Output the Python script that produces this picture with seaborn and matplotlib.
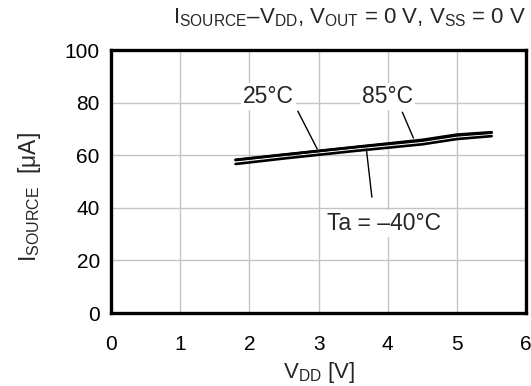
import matplotlib
matplotlib.use("Agg")
import matplotlib.pyplot as plt
import seaborn as sns
import pandas as pd

# Supply voltage sweep [V]
vdd = [1.8, 2.5, 3.0, 3.5, 4.0, 4.5, 5.0, 5.5]
# Source current [uA] per ambient temperature
isrc_25 = [58.2, 60.2, 61.6, 63.0, 64.3, 65.6, 67.6, 68.6]
isrc_85 = [58.3, 60.3, 61.7, 63.1, 64.5, 65.9, 67.9, 68.8]
isrc_m40 = [56.7, 58.8, 60.2, 61.6, 62.9, 64.2, 66.2, 67.3]
temps = ["25°C", "85°C", "Ta = –40°C"]

x_ticks = [0, 1, 2, 3, 4, 5, 6]
y_ticks = [0, 20, 40, 60, 80, 100]

rows = []
for t, vals in zip(temps, [isrc_25, isrc_85, isrc_m40]):
    for v, i in zip(vdd, vals):
        rows.append({"VDD": v, "ISOURCE": i, "Temp": t})
df = pd.DataFrame(rows)

sns.set_style("white")
plt.rcParams["font.family"] = ["Liberation Sans", "DejaVu Sans"]
plt.rcParams["mathtext.fontset"] = "custom"
plt.rcParams["mathtext.rm"] = "Liberation Sans"
plt.rcParams["mathtext.it"] = "Liberation Sans"

fig = plt.figure(figsize=(5.31, 3.86), dpi=100)
ax = fig.add_axes([0.209, 0.189, 0.782, 0.681])

sns.lineplot(data=df, x="VDD", y="ISOURCE", hue="Temp",
             palette=["black"] * 3, linewidth=1.9, legend=False, ax=ax,
             zorder=3)

ax.set_xlim(0, 6)
ax.set_ylim(0, 100)
ax.set_xticks(x_ticks)
ax.set_yticks(y_ticks)
ax.tick_params(axis="both", length=0, labelsize=15, colors="black")
ax.tick_params(axis="x", pad=16)
ax.tick_params(axis="y", pad=8)
ax.grid(True, color="#c4c4c4", linewidth=1.0)
for s in ax.spines.values():
    s.set_visible(True)
    s.set_color("black")
    s.set_linewidth(2.4)

ax.set_xlabel(r"V$_{\mathrm{DD}}$ [V]", fontsize=16, labelpad=4)
ax.set_ylabel(r"I$_{\mathrm{SOURCE}}$  [μA]", fontsize=16.5)
ax.yaxis.set_label_coords(-0.163, 0.44)
ax.set_title(r"I$_{\mathrm{SOURCE}}$–V$_{\mathrm{DD}}$, V$_{\mathrm{OUT}}$ = 0 V, V$_{\mathrm{SS}}$ = 0 V",
             fontsize=16, loc="right", pad=19)

bbox = dict(facecolor="white", edgecolor="none", pad=1.5)
ax.text(2.28, 82.5, "25°C", fontsize=16.5, ha="center", va="center", bbox=bbox, zorder=4)
ax.text(3.99, 82.5, "85°C", fontsize=16.5, ha="center", va="center", bbox=bbox, zorder=4)
ax.text(3.95, 34.2, "Ta = –40°C", fontsize=16.5, ha="center", va="center", bbox=bbox, zorder=4)

# leader lines from labels to curves
ax.plot([2.70, 2.98], [76.8, 62.4], color="black", linewidth=1.0, zorder=4)
ax.plot([4.21, 4.37], [76.4, 66.6], color="black", linewidth=1.0, zorder=4)
ax.plot([3.69, 3.77], [62.4, 44.1], color="black", linewidth=1.0, zorder=4)

fig.savefig("out.png", dpi=100)
